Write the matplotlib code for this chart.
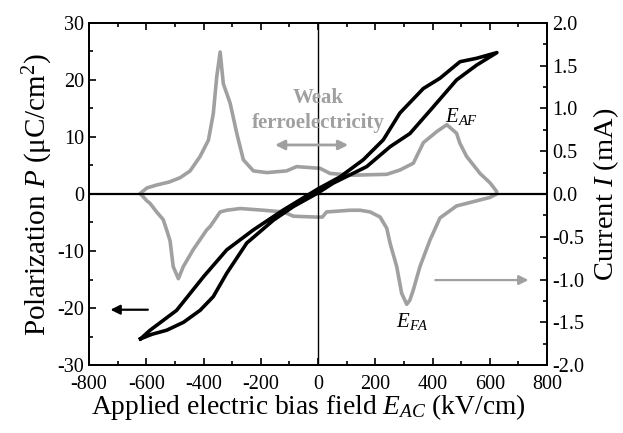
import numpy as np
import matplotlib
matplotlib.use('Agg')
import matplotlib.pyplot as plt
from matplotlib.ticker import MultipleLocator

plt.rcParams['font.family'] = ['Liberation Serif', 'DejaVu Serif']
plt.rcParams['mathtext.fontset'] = 'custom'
plt.rcParams['mathtext.rm'] = 'Liberation Serif'
plt.rcParams['mathtext.it'] = 'Liberation Serif:italic'
plt.rcParams['axes.unicode_minus'] = False

# --- P-E loop (left axis) ---
E_up = [-620, -580, -529, -470, -412, -366, -319, -249, -156, -86, 0, 53, 170, 252, 321, 403, 484, 554, 625]
P_up = [-25.4, -24.6, -23.9, -22.5, -20.4, -18.0, -13.9, -8.6, -4.6, -2.2, 0.2, 1.9, 4.8, 8.3, 10.6, 15.3, 20.0, 22.6, 24.8]
E_dn = [625, 554, 496, 426, 368, 286, 228, 158, 77, 0, -121, -226, -319, -400, -494, -587, -620]
P_dn = [24.8, 23.8, 23.2, 20.3, 18.5, 14.2, 9.5, 6.0, 3.0, 0.9, -2.8, -6.3, -9.8, -14.5, -20.4, -23.9, -25.4]

# --- I-E loop (right axis) ---
E_Iup = [-620, -598, -564, -520, -482, -447, -412, -383, -366, -354, -342, -331, -307, -284, -261,
         -226, -179, -110, -75, 7, 42, 123, 240, 286, 333, 368, 415, 450, 484, 496, 519, 566, 601, 624]
I_up = [0.01, 0.07, 0.105, 0.14, 0.19, 0.27, 0.44, 0.63, 0.94, 1.37, 1.66, 1.29, 1.06, 0.71, 0.40,
        0.27, 0.25, 0.27, 0.32, 0.30, 0.24, 0.22, 0.23, 0.28, 0.36, 0.60, 0.73, 0.81, 0.71, 0.59, 0.44, 0.24, 0.13, 0.03]
E_Idn = [624, 601, 554, 484, 426, 391, 356, 333, 321, 310, 292, 275, 252, 240, 217, 182, 147, 112, 30, 15,
         -5, -86, -121, -191, -272, -319, -342, -377, -389, -436, -471, -488, -506, -517, -529, -541, -564, -587, -598, -620]
I_dn = [0.0, -0.04, -0.08, -0.14, -0.28, -0.54, -0.85, -1.12, -1.24, -1.29, -1.16, -0.85, -0.58, -0.40, -0.27,
        -0.21, -0.19, -0.19, -0.21, -0.27, -0.27, -0.26, -0.21, -0.19, -0.17, -0.19, -0.21, -0.38, -0.42, -0.65,
        -0.85, -0.99, -0.85, -0.55, -0.42, -0.30, -0.21, -0.11, -0.08, 0.0]

gray = '#a0a0a0'

fig = plt.figure(figsize=(6.23, 4.33), dpi=100)
ax = fig.add_axes([0.143, 0.157, 0.735, 0.790])
ax2 = ax.twinx()

ax.axhline(0, color='black', lw=1.6, zorder=1)
ax.axvline(0, color='black', lw=1.0, zorder=1)

ax2.plot(E_Iup + E_Idn, I_up + I_dn, color=gray, lw=2.6, solid_joinstyle='round')
ax.plot(E_up + E_dn, P_up + P_dn, color='black', lw=2.6, solid_joinstyle='round', zorder=5)
ax.set_zorder(ax2.get_zorder() + 1)
ax.patch.set_visible(False)

ax.set_xlim(-800, 800)
ax.set_ylim(-30, 30)
ax2.set_ylim(-2.0, 2.0)

ax.xaxis.set_major_locator(MultipleLocator(200))
ax.xaxis.set_minor_locator(MultipleLocator(100))
ax.yaxis.set_major_locator(MultipleLocator(10))
ax.yaxis.set_minor_locator(MultipleLocator(5))
ax2.yaxis.set_major_locator(MultipleLocator(0.5))
ax2.yaxis.set_minor_locator(MultipleLocator(0.25))
ax2.yaxis.set_major_formatter(plt.FormatStrFormatter('%.1f'))

ax.tick_params(which='both', direction='in', top=True, right=False, labelsize=14.5, width=1.2)
ax.tick_params(which='major', length=5)
ax.tick_params(which='minor', length=3)
ax.tick_params(axis='x', which='major', pad=7)
ax2.tick_params(which='both', direction='in', labelsize=14.5, width=1.2)
ax2.tick_params(which='major', length=5)
ax2.tick_params(which='minor', length=3)
for a in (ax, ax2):
    for s in a.spines.values():
        s.set_linewidth(1.3)

ax.set_xlabel('Applied electric bias field $E_{AC}$ (kV/cm)', fontsize=19.8)
ax.xaxis.set_label_coords(0.478, -0.08)
ax.set_ylabel('Polarization $P$ (μC/cm$^2$)', fontsize=21, labelpad=2)
ax2.set_ylabel('Current $I$ (mA)', fontsize=20.5, labelpad=5)

# annotations
ax.text(0, 16.8, 'Weak', color=gray, fontsize=15, fontweight='bold', ha='center', va='center')
ax.text(0, 12.4, 'ferroelectricity', color=gray, fontsize=15, fontweight='bold', ha='center', va='center')
ax.annotate('', xy=(-160, 8.6), xytext=(115, 8.6),
            arrowprops=dict(arrowstyle='<|-|>', color=gray, lw=2, mutation_scale=14))
ax.annotate('', xy=(-735, -20.3), xytext=(-585, -20.3),
            arrowprops=dict(arrowstyle='-|>', color='black', lw=1.6, mutation_scale=14))
ax.annotate('', xy=(745, -15.1), xytext=(400, -15.1),
            arrowprops=dict(arrowstyle='-|>', color=gray, lw=1.6, mutation_scale=14))
ax.text(500, 13.6, '$E_{AF}$', fontsize=15, ha='center', va='center')
ax.text(330, -22.4, '$E_{FA}$', fontsize=15, ha='center', va='center')

fig.savefig('out.png', dpi=100)
